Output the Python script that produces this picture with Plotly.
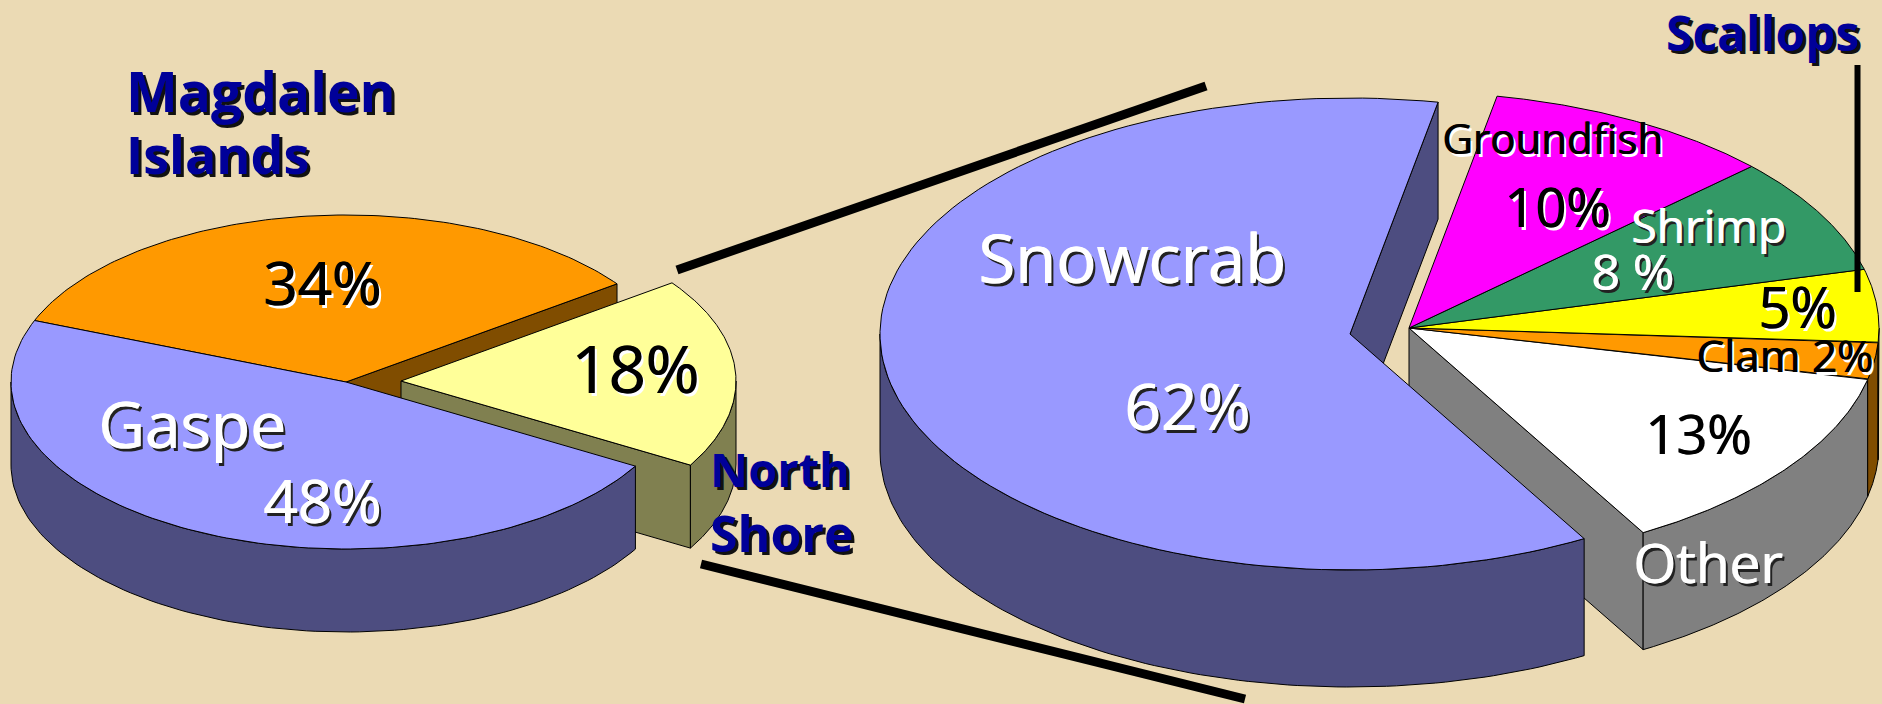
import numpy as np
import plotly.graph_objects as go

# ---- data ----
region_names = ["Magdalen Islands", "Gaspe", "North Shore"]
region_shares = [34.0, 47.6, 18.4]          # drawn wedge sizes
region_labels = ["34%", "48%", "18%"]

species_names = ["Snowcrab", "Other", "Clam", "Scallops", "Shrimp", "Groundfish"]
species_shares = [61.3, 13.2, 2.5, 5.0, 8.0, 10.0]
species_labels = ["62%", "13%", "Clam 2%", "5%", "8 %", "10%"]

# ---- styles ----
BG = "#EBDAB4"
LILAC, LILAC_D = "#9999FF", "#4D4D80"
ORANGE, ORANGE_D = "#FF9900", "#804D00"
PALE, PALE_D = "#FFFF99", "#808050"
MAGENTA, MAGENTA_D = "#FF00FF", "#800080"
GREEN, GREEN_D = "#339966", "#1A4D33"
YELLOW, YELLOW_D = "#FFFF00", "#808000"
WHITE, GREY = "#FFFFFF", "#808080"
NAVY = "#000099"

fig = go.Figure()


def poly(xs, ys, color):
    fig.add_trace(go.Scatter(x=xs, y=ys, mode="lines", fill="toself", fillcolor=color,
                             line=dict(color="black", width=1), hoverinfo="skip",
                             showlegend=False))


def ell(cx, cy, rx, ry, a):
    a = np.radians(a)
    return cx + rx * np.cos(a), cy - ry * np.sin(a)


def wedge_top(c, rx, ry, a0, a1, color):
    t = np.linspace(a0, a1, 120)
    x, y = ell(c[0], c[1], rx, ry, t)
    poly(np.r_[c[0], x, c[0]], np.r_[c[1], y, c[1]], color)


def arc_side(c, rx, ry, depth, a0, a1, color):
    # visible outer wall: the part of the arc facing the viewer (180..360 deg)
    a0m, a1m = a0 % 360, a1 % 360
    if a1m <= a0m:
        a1m += 360
    lo, hi = max(a0m, 180), min(a1m, 360)
    if hi <= lo:
        return
    t = np.linspace(lo, hi, 100)
    x, y = ell(c[0], c[1], rx, ry, t)
    poly(np.r_[x, x[::-1], x[0]], np.r_[y, y[::-1] + depth, y[0]], color)


def cut_side(c, rx, ry, depth, a, color):
    x, y = ell(c[0], c[1], rx, ry, a)
    poly([c[0], x, x, c[0], c[0]], [c[1], y, y + depth, c[1] + depth, c[1]], color)


def edges(start, shares):
    """Wedge limits in degrees, running counter-clockwise from `start`."""
    out = [start]
    for s in shares:
        out.append(out[-1] + s * 3.6)
    return out


# ---- left pie ----
RX1, RY1, D1 = 335, 167, 83
C1, C1X = (346, 382), (401, 381)
e = edges(36.0, region_shares)
cut_side(C1, RX1, RY1, D1, e[0], ORANGE_D)
wedge_top(C1, RX1, RY1, e[0], e[1], ORANGE)
cut_side(C1X, RX1, RY1, D1, e[2], PALE_D)
arc_side(C1X, RX1, RY1, D1, e[2], e[3], PALE_D)
wedge_top(C1X, RX1, RY1, e[2], e[3], PALE)
arc_side(C1, RX1, RY1, D1, e[1], e[2], LILAC_D)
wedge_top(C1, RX1, RY1, e[1], e[2], LILAC)

# ---- right pie: cluster of small wedges, then the pulled-out Snowcrab ----
RX2, RY2, D2 = 470, 236, 117
C2, C2X = (1409, 328), (1350, 334)
e = edges(79.2, species_shares)   # Snowcrab first, then counter-clockwise
cut_side(C2, RX2, RY2, D2, e[1], GREY)
rest_cols = [(WHITE, GREY), (ORANGE, ORANGE_D), (YELLOW, YELLOW_D), (GREEN, GREEN_D), (MAGENTA, MAGENTA_D)]
for i, (top, side) in enumerate(rest_cols, start=1):
    arc_side(C2, RX2, RY2, D2, e[i], e[i + 1], side)
for i, (top, side) in enumerate(rest_cols, start=1):
    wedge_top(C2, RX2, RY2, e[i], e[i + 1], top)
cut_side(C2X, RX2, RY2, D2, e[0], LILAC_D)
arc_side(C2X, RX2, RY2, D2, e[0], e[1], LILAC_D)
wedge_top(C2X, RX2, RY2, e[0], e[1], LILAC)

# ---- zoom connector lines ----
for xs, ys, w in [((677, 1206), (270, 86), 9), ((701, 1245), (564, 699), 9),
                  ((1857.5, 1857.5), (65, 292), 6)]:
    fig.add_trace(go.Scatter(x=list(xs), y=list(ys), mode="lines", hoverinfo="skip",
                             line=dict(color="black", width=w), showlegend=False))


# ---- text ----
def label(txt, x, y, size, color, shadow, family="Open Sans", bold=False, anchor="center"):
    fig.add_annotation(x=x, y=y - size * 0.07, text=txt, showarrow=False, xanchor=anchor,
                       yanchor="middle",
                       font=dict(family=family, size=size, color=color, shadow=shadow,
                                 weight="bold" if bold else "normal"))


S_NAVY = "3px 3px 0 #111"
S_DARK = "1px 0 0 #fff, 3px 3px 0 #222"
S_LITE = "1px 0 0 #000, 3px 3px 0 #fff"

label("Magdalen", 124, 94, 55, NAVY, S_NAVY, bold=True, anchor="left")
label("Islands", 124, 157, 52, NAVY, S_NAVY, bold=True, anchor="left")
label("North", 708, 472, 47, NAVY, S_NAVY, bold=True, anchor="left")
label("Shore", 708, 536, 50, NAVY, S_NAVY, bold=True, anchor="left")
label("Scallops", 1762, 36, 48, NAVY, S_NAVY, bold=True)

label(region_labels[0], 322, 286, 60, "black", S_LITE)
label(region_labels[1], 322, 504, 60, "white", S_DARK)
label(region_labels[2], 635, 373, 65, "black", S_LITE)
label(region_names[1], 192, 428, 64, "white", S_DARK)

label(species_names[0], 1132, 262, 67, "white", S_DARK)
label(species_labels[0], 1187, 410, 64, "white", S_DARK)
label(species_names[1], 1707, 565, 55, "white", S_DARK)
label(species_labels[1], 1698, 437, 54, "black", S_LITE)
label(species_labels[2], 1784, 358, 44, "black", S_LITE)
label(species_labels[3], 1797, 310, 56, "black", S_LITE)
label(species_names[4], 1708, 228, 46, "white", S_DARK)
label(species_labels[4], 1632, 274, 50, "white", S_DARK)
label(species_names[5], 1552, 140, 42, "black", S_LITE)
label(species_labels[5], 1557, 210, 54, "black", S_LITE)

fig.update_layout(width=1882, height=704, margin=dict(l=0, r=0, t=0, b=0),
                  paper_bgcolor=BG, plot_bgcolor=BG, showlegend=False,
                  xaxis=dict(range=[0, 1882], visible=False, fixedrange=True),
                  yaxis=dict(range=[704, 0], visible=False, fixedrange=True))
fig.write_html("out.html", config=dict(displayModeBar=False),
               post_script="document.body.style.margin='0';document.body.style.overflow='hidden';"
                           "document.body.style.background='" + BG + "';")
